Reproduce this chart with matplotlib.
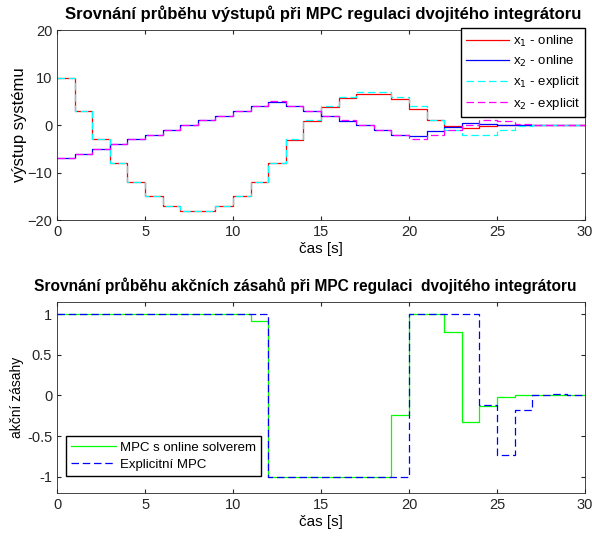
import matplotlib.pyplot as plt
import numpy as np

plt.rcParams['font.family'] = ['Liberation Sans', 'DejaVu Sans']

# time steps (stairs edges 0..30)
t = np.arange(31)

# states - online MPC (values per step k = 0..29)
x1_online = [10, 3, -3, -8, -12, -15, -17, -18, -18, -17, -15, -12, -8, -3.08, 0.84,
             3.76, 5.68, 6.6, 6.52, 5.44, 3.36, 1.04, -0.28, -0.6, -0.14, -0.01, 0, 0, 0, 0]
x2_online = [-7, -6, -5, -4, -3, -2, -1, 0, 1, 2, 3, 4, 4.92, 3.92, 2.92,
             1.92, 0.92, -0.08, -1.08, -2.08, -2.32, -1.32, -0.32, 0.46, 0.13, 0, 0, 0, 0, 0]
# states - explicit MPC
x1_explicit = [10, 3, -3, -8, -12, -15, -17, -18, -18, -17, -15, -12, -8, -3, 1,
               4, 6, 7, 7, 6, 4, 1, -1, -2, -2, -1, -0.12, 0.03, 0, 0]
x2_explicit = [-7, -6, -5, -4, -3, -2, -1, 0, 1, 2, 3, 4, 5, 4, 3,
               2, 1, 0, -1, -2, -3, -2, -1, 0, 1, 0.88, 0.15, -0.02, -0.01, 0]

# control actions
u_online = [1, 1, 1, 1, 1, 1, 1, 1, 1, 1, 1, 0.92, -1, -1, -1,
            -1, -1, -1, -1, -0.24, 1, 1, 0.78, -0.33, -0.135, -0.016, 0, 0, 0, 0]
u_explicit = [1, 1, 1, 1, 1, 1, 1, 1, 1, 1, 1, 1, -1, -1, -1,
              -1, -1, -1, -1, -1, 1, 1, 1, 1, -0.12, -0.73, -0.175, 0.01, 0.015, 0]


def st(v):
    # repeat last value so the step reaches t = 30
    return list(v) + [v[-1]]


fig = plt.figure(figsize=(5.92, 5.38), dpi=100)
ax1 = fig.add_axes([0.0963, 0.591, 0.892, 0.353])
ax2 = fig.add_axes([0.0963, 0.0836, 0.892, 0.355])

lw = 0.9
dash = (6, 3)

# TOP: system outputs
ax1.step(t, st(x1_online), where='post', color='#ff0000', lw=lw, label='x$_1$ - online')
ax1.step(t, st(x2_online), where='post', color='#0000ff', lw=lw, label='x$_2$ - online')
ax1.step(t, st(x1_explicit), where='post', color='#00ffff', lw=lw, dashes=dash, label='x$_1$ - explicit')
ax1.step(t, st(x2_explicit), where='post', color='#ff00ff', lw=lw, dashes=dash, label='x$_2$ - explicit')
ax1.set_xlim(0, 30)
ax1.set_ylim(-20, 20)
ax1.set_yticks([-20, -10, 0, 10, 20])
ax1.set_title('Srovnání průběhu výstupů při MPC regulaci dvojitého integrátoru',
              fontsize=12, fontweight='bold', pad=8, x=0.505)
ax1.set_xlabel('čas [s]', fontsize=11, labelpad=2)
ax1.set_ylabel('výstup systému', fontsize=12, labelpad=0)
ax1.legend(loc='upper right', fontsize=9.5, fancybox=False, edgecolor='k',
           borderaxespad=0, framealpha=1, handlelength=3.2, handletextpad=0.3,
           labelspacing=0.4, borderpad=0.4, bbox_to_anchor=(1.0, 1.01))

# BOTTOM: control actions
ax2.step(t, st(u_online), where='post', color='#00ff00', lw=lw, label='MPC s online solverem')
ax2.step(t, st(u_explicit), where='post', color='#0000ff', lw=lw, dashes=dash, label='Explicitní MPC')
ax2.set_xlim(0, 30)
ax2.set_ylim(-1.2, 1.15)
ax2.set_yticks([-1, -0.5, 0, 0.5, 1])
ax2.set_yticklabels(['-1', '-0.5', '0', '0.5', '1'])
ax2.set_title('Srovnání průběhu akčních zásahů při MPC regulaci  dvojitého integrátoru',
              fontsize=11.2, fontweight='bold', pad=8, x=0.47)
ax2.set_xlabel('čas [s]', fontsize=11, labelpad=2)
ax2.set_ylabel('akční zásahy', fontsize=10, labelpad=2)
ax2.legend(loc='lower left', fontsize=9.5, fancybox=False, edgecolor='k',
           framealpha=1, handlelength=3.4, handletextpad=0.3, labelspacing=0.35,
           bbox_to_anchor=(0.004, 0.055))

for ax in (ax1, ax2):
    ax.tick_params(direction='in', top=True, right=True, labelsize=10.5, length=3, colors='#262626')
    for s in ax.spines.values():
        s.set_color('#262626')
        s.set_linewidth(0.6)

fig.savefig('out.png', dpi=100)
